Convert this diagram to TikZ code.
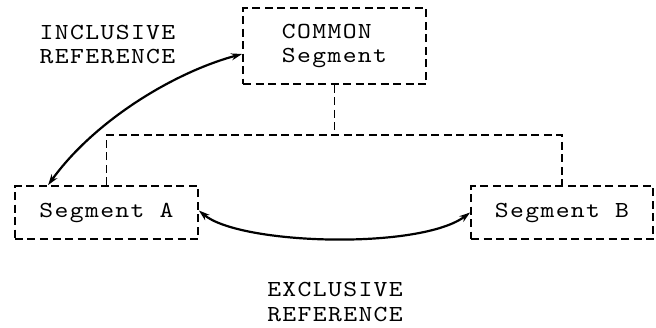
\documentclass[tikz,border=0pt]{standalone}
\usepackage{fontspec}
\setmonofont[FakeStretch=1.15,LetterSpace=6]{lmmono10-regular.otf}
\usetikzlibrary{arrows.meta,calc}
\tikzset{
  dline/.style={line width=1.8bp, dash pattern=on 8bp off 4.5bp},
  txt/.style={font=\ttfamily\fontsize{23}{25}\selectfont},
  seg/.style={dline, draw, inner sep=0pt, txt},
  lbl/.style={inner sep=0pt, txt},
  ref/.style={line width=2.2bp, {Stealth[length=11bp,width=7bp]}-{Stealth[length=11bp,width=7bp]}}
}
\begin{document}
\begin{tikzpicture}[x=1bp,y=-1bp]
\useasboundingbox (0,0) rectangle (656,327);
\node[seg, minimum width=183bp, minimum height=76bp, align=left] (C) at (334.5,46) {COMMON\\Segment};
\node[seg, minimum width=183bp, minimum height=53bp] (A) at (106.5,212.5) {Segment A};
\node[seg, minimum width=182bp, minimum height=53bp] (B) at (562,212.5) {Segment B};
\coordinate (bar) at (334.5,135);
\draw[dline] (C.south) -- (bar);
\draw[dline] (A.north) |- (bar) -| (B.north);
\node[lbl, align=left] (inc) at (107.5,44.5) {INCLUSIVE\\REFERENCE};
\node[lbl, align=center] (exc) at (335,302) {EXCLUSIVE\\REFERENCE};
\draw[ref] ($(A.north west)+(34,0)$) .. controls (95,120) and (175,72) .. ($(C.west)+(0,8)$);
\draw[ref] ($(A.east)+(0,-2)$) .. controls (240,245) and (420,250) .. (B.west);
\end{tikzpicture}
\end{document}
